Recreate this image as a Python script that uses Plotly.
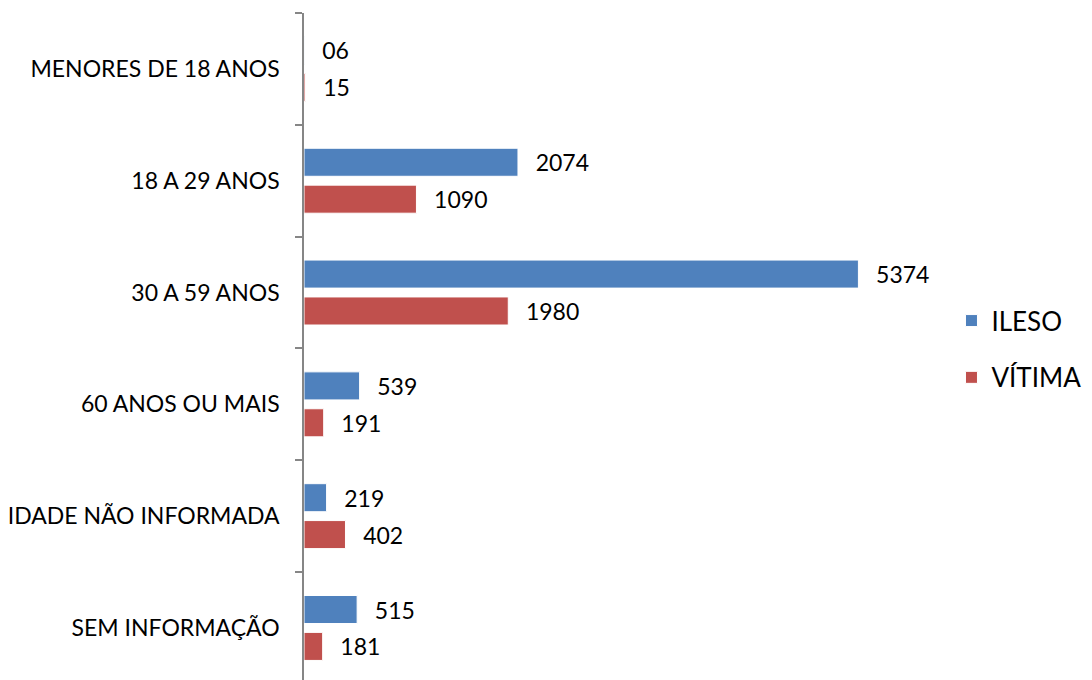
import plotly.graph_objects as go

# Faixas etárias (de cima para baixo)
categorias = ["MENORES DE 18 ANOS", "18 A 29 ANOS", "30 A 59 ANOS",
              "60 ANOS OU MAIS", "IDADE NÃO INFORMADA", "SEM INFORMAÇÃO"]
ileso = [6, 2074, 5374, 539, 219, 515]
vitima = [15, 1090, 1980, 191, 402, 181]

AZUL = "#4F81BD"
VERMELHO = "#C0504D"
FONTE = "Lato"

fig = go.Figure()

for nome, valores, cor in [("ILESO", ileso, AZUL), ("VÍTIMA", vitima, VERMELHO)]:
    fig.add_trace(go.Bar(
        y=categorias, x=valores, name=nome, orientation="h",
        marker=dict(color=cor, line=dict(color="white", width=1)),
        texttemplate="\u00a0\u00a0\u2009%{x:02d}", textposition="outside",
        constraintext="none", cliponaxis=False,
        textfont=dict(family=FONTE, size=23, color="#000000"),
        legendgroup=nome,
    ))

fig.update_layout(
    width=1092, height=680,
    margin=dict(l=296, r=177, t=5, b=0),
    paper_bgcolor="white", plot_bgcolor="white",
    barmode="group", bargap=0.34, bargroupgap=0.24,
    font=dict(family=FONTE, size=23, color="#000000"),
    showlegend=True,
    legend=dict(x=1.046, y=0.502, xanchor="left", yanchor="middle",
                font=dict(family=FONTE, size=26, color="#000000"),
                tracegroupgap=20, traceorder="grouped"),
)

fig.update_xaxes(range=[0, 6000], visible=False, showgrid=False, zeroline=False)
fig.update_yaxes(
    type="category", range=[5.537, -0.5],
    showline=True, linecolor="#868686", linewidth=1.5,
    ticks="outside", ticklen=7, tickcolor="#868686", tickwidth=1.5,
    tickson="boundaries", ticklabelstandoff=18,
    showgrid=False, zeroline=False,
    tickfont=dict(family=FONTE, size=23, color="#000000"),
)

fig.write_html("out.html")
